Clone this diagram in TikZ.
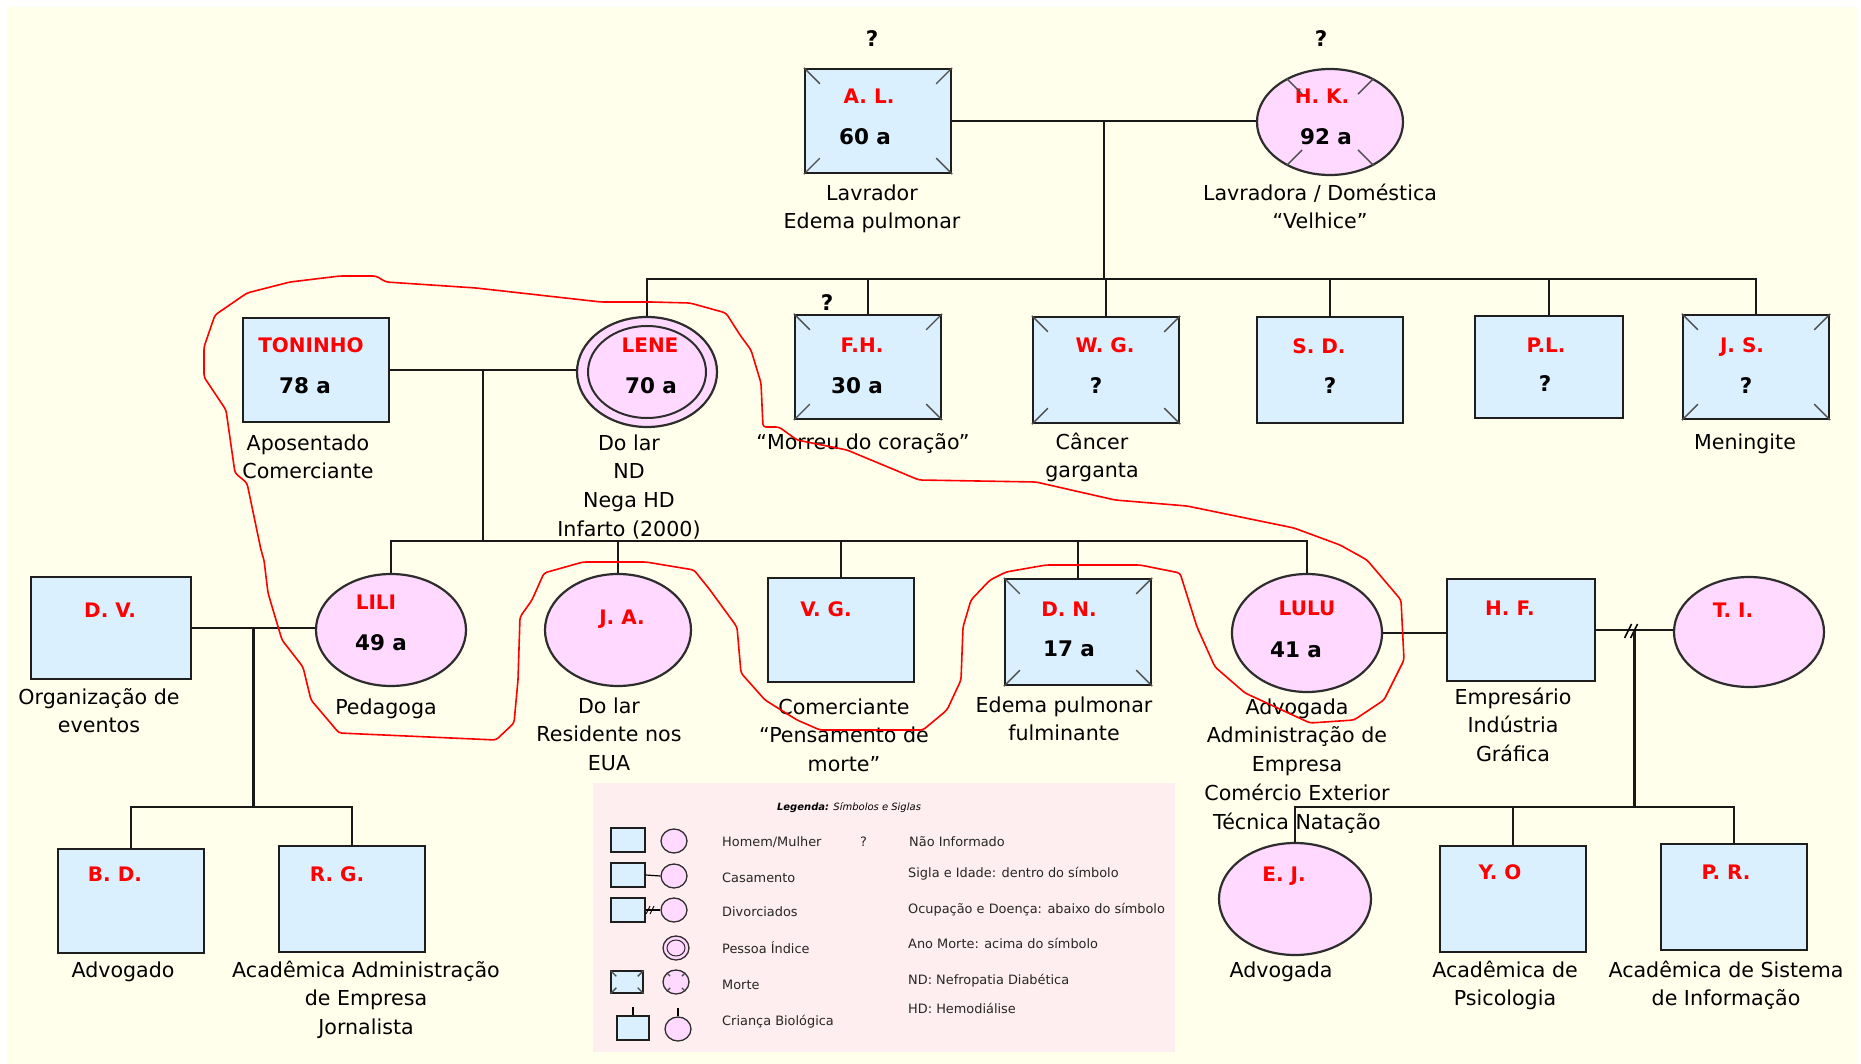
\documentclass[tikz,border=0pt]{standalone}
\usepackage{fontspec}
\setmainfont{DejaVu Sans}
\usetikzlibrary{shapes.geometric,calc}

% death marks: corners of a square, diagonals of a circle
\newcommand{\deadbox}[2][16]{%
  \draw[deadmark] (#2.north west) -- ++(#1,#1);
  \draw[deadmark] (#2.north east) -- ++(-#1,#1);
  \draw[deadmark] (#2.south west) -- ++(#1,-#1);
  \draw[deadmark] (#2.south east) -- ++(-#1,-#1);
}
\newcommand{\deadcirc}[1]{%
  \foreach \a in {45,135,225,315}
    \draw[deadmark] (#1.\a) -- ($(#1.center)!0.64!(#1.\a)$);
}

\begin{document}
\begin{tikzpicture}[x=1pt,y=-1pt,
    man/.style={rectangle,draw=boxline,fill=mancol,line width=2.4pt,inner sep=0pt,minimum width=146pt,minimum height=104pt},
    woman/.style={ellipse,draw=circline,fill=womcol,line width=2.2pt,inner sep=0pt,minimum width=146pt,minimum height=110pt},
    nm/.style={text=namered,font=\bfseries\fontsize{20}{24}\selectfont,inner sep=0pt,anchor=base},
    age/.style={font=\bfseries\fontsize{21.5}{26}\selectfont,inner sep=0pt,anchor=base},
    info/.style={font=\fontsize{20.6}{28.7}\selectfont,align=center,anchor=north,inner sep=0pt},
    tie/.style={line width=2.4pt,draw=black!90},
    deadmark/.style={line width=1.4pt,draw=black!70},
    lsq/.style={man,minimum width=34pt,minimum height=24pt,line width=1.3pt},
    lci/.style={woman,minimum width=26pt,minimum height=24pt,line width=1.3pt},
    leg/.style={font=\fontsize{12.9}{15}\selectfont,anchor=base west,inner sep=0pt,text=black!85}]
    % Define colors
    \definecolor{bgcol}{RGB}{255,255,235}
    \definecolor{legbg}{RGB}{255,238,240}
    \definecolor{mancol}{RGB}{219,240,255}
    \definecolor{womcol}{RGB}{255,217,255}
    \definecolor{namered}{RGB}{255,0,0}
    \definecolor{boxline}{RGB}{30,30,30}
    \definecolor{circline}{RGB}{45,45,45}

    % Draw background
    \useasboundingbox (0,0) rectangle (1861,1064);
    \fill[bgcol] (7,7) rectangle (1858,1064);

    % Grandparents
    \node[man] (al) at (878,121) {};
    \node[woman,minimum height=106pt] (hk) at (1330,122) {};
    \node[age] (alq) at (872,47) {?};
    \node[age] (hkq) at (1321,47) {?};
    \node[nm] (alnm) at (869,104) {A. L.};
    \node[age] (alage) at (865,145) {60 a};
    \node[nm] (hknm) at (1322,104) {H. K.};
    \node[age] (hkage) at (1326,145) {92 a};
    \node[info] (alinfo) at (872,180) {\strut Lavrador\\Edema pulmonar};
    \node[info] (hkinfo) at (1320,180) {\strut Lavradora / Doméstica\\“Velhice”};

    % Their children and Toninho
    \node[man] (ton) at (316,370) {};
    \node[woman,minimum width=140pt] (lene) at (647,372) {};
    \draw[line width=2pt,draw=circline] (lene.center) ellipse (59 and 46);
    \node[man] (fh) at (868,367) {};
    \node[man,minimum height=106pt] (wg) at (1106,370) {};
    \node[man,minimum height=106pt] (sd) at (1330,370) {};
    \node[man,minimum width=148pt,minimum height=102pt] (pl) at (1549,367) {};
    \node[man] (js) at (1756,367) {};

    \node[nm] (tonnm) at (311,353) {TONINHO};
    \node[age] (tonage) at (305,394) {78 a};
    \node[nm] (lenenm) at (650,353) {LENE};
    \node[age] (leneage) at (651,394) {70 a};
    \node[age] (fhq) at (827,311) {?};
    \node[nm] (fhnm) at (862,353) {F.H.};
    \node[age] (fhage) at (857,394) {30 a};
    \node[nm] (wgnm) at (1105,353) {W. G.};
    \node[age] (wgage) at (1096,394) {?};
    \node[nm] (sdnm) at (1319,354) {S. D.};
    \node[age] (sdage) at (1330,394) {?};
    \node[nm] (plnm) at (1546,353) {P.L.};
    \node[age] (plage) at (1545,392) {?};
    \node[nm] (jsnm) at (1742,353) {J. S.};
    \node[age] (jsage) at (1746,394) {?};

    \node[info] (toninfo) at (308,430) {\strut Aposentado\\Comerciante};
    \node[info] (leneinfo) at (629,430) {\strut Do lar\\ND\\Nega HD\\Infarto (2000)};
    \node[info] (fhinfo) at (863,429) {\strut “Morreu do coração”};
    \node[info] (wginfo) at (1092,429) {\strut Câncer\\garganta};
    \node[info] (jsinfo) at (1745,429) {\strut Meningite};

    % Third generation
    \node[man,minimum width=160pt,minimum height=102pt] (dv) at (111,628) {};
    \node[woman,minimum width=150pt,minimum height=112pt] (lili) at (391,630) {};
    \node[woman,minimum width=146pt,minimum height=112pt] (ja) at (618,630) {};
    \node[man] (vg) at (841,630) {};
    \node[man,minimum height=106pt] (dn) at (1078,632) {};
    \node[woman,minimum width=150pt,minimum height=118pt] (lulu) at (1307,633) {};
    \node[man,minimum width=148pt,minimum height=102pt] (hf) at (1521,630) {};
    \node[woman,minimum width=150pt,minimum height=110pt] (ti) at (1749,632) {};

    \node[nm] (dvnm) at (110,617) {D. V.};
    \node[nm] (lilinm) at (376,609) {LILI};
    \node[age] (liliage) at (381,650) {49 a};
    \node[nm] (janm) at (622,624) {J. A.};
    \node[nm] (vgnm) at (826,616) {V. G.};
    \node[nm] (dnnm) at (1069,616) {D. N.};
    \node[age] (dnage) at (1069,656) {17 a};
    \node[nm] (lulunm) at (1307,615) {LULU};
    \node[age] (luluage) at (1296,657) {41 a};
    \node[nm] (hfnm) at (1510,615) {H. F.};
    \node[nm] (tinm) at (1733,617) {T. I.};

    \node[info] (dvinfo) at (99,684) {\strut Organização de\\eventos};
    \node[info] (liliinfo) at (386,694) {\strut Pedagoga};
    \node[info] (jainfo) at (609,693) {\strut Do lar\\Residente nos\\EUA};
    \node[info] (vginfo) at (844,694) {\strut Comerciante\\“Pensamento de\\morte”};
    \node[info] (dninfo) at (1064,692) {\strut Edema pulmonar\\fulminante};
    \node[info] (luluinfo) at (1297,694) {\strut Advogada\\Administração de\\Empresa\\Comércio Exterior\\Técnica Natação};
    \node[info] (hfinfo) at (1513,684) {\strut Empresário\\Indústria\\Gráfica};

    % Fourth generation
    \node[man] (bd) at (131,901) {};
    \node[man,minimum height=106pt] (rg) at (352,899) {};
    \node[woman,minimum width=152pt,minimum height=112pt] (ej) at (1295,899) {};
    \node[man,minimum height=106pt] (yo) at (1513,899) {};
    \node[man,minimum height=106pt] (pr) at (1734,897) {};

    \node[nm] (bdnm) at (115,881) {B. D.};
    \node[nm] (rgnm) at (337,881) {R. G.};
    \node[nm] (ejnm) at (1284,881) {E. J.};
    \node[nm] (yonm) at (1500,879) {Y. O};
    \node[nm] (prnm) at (1726,879) {P. R.};

    \node[info] (bdinfo) at (123,957) {\strut Advogado};
    \node[info] (rginfo) at (366,957) {\strut Acadêmica Administração\\de Empresa\\Jornalista};
    \node[info] (ejinfo) at (1281,957) {\strut Advogada};
    \node[info] (yoinfo) at (1505,957) {\strut Acadêmica de\\Psicologia};
    \node[info] (prinfo) at (1726,957) {\strut Acadêmica de Sistema\\de Informação};

    % Death marks
    \deadbox{al}
    \deadcirc{hk}
    \deadbox{fh}
    \deadbox{wg}
    \deadbox{js}
    \deadbox{dn}

    % Marriages and children
    \coordinate (sib1) at (0,279);
    \coordinate (sib2) at (0,541);
    \coordinate (sib3) at (0,807);

    \draw[tie] (al.east) -- (al.east -| hk.west);
    \coordinate (m1) at ($(al.east)!0.5!(hk.west)$);
    \draw[tie] (m1) -- (m1 |- sib1);
    \draw[tie] (lene.north) -- (lene.north |- sib1) -| (js.north);
    \foreach \c in {fh,wg,sd,pl}
        \draw[tie] (\c.north) -- (\c.north |- sib1);

    \draw[tie] (ton.east) -- (ton.east -| lene.west);
    \coordinate (m2) at ($(ton.east)!0.5!(lene.west)$);
    \draw[tie] (m2) -- (m2 |- sib2);
    \draw[tie] (lili.north) -- (lili.north |- sib2) -| (lulu.north);
    \foreach \c in {ja,vg,dn}
        \draw[tie] (\c.north) -- (\c.north |- sib2);

    \draw[tie] (dv.east) -- (dv.east -| lili.west);
    \coordinate (m3) at ($(dv.east)!0.5!(lili.west)$);
    \draw[tie] (m3) -- (m3 |- sib3);
    \draw[tie] (bd.north) -- (bd.north |- sib3) -| (rg.north);

    \draw[tie] (lulu.east) -- (lulu.east -| hf.west);
    \draw[tie] (hf.east) -- (hf.east -| ti.west);
    \coordinate (m4) at ($(hf.east)!0.5!(ti.west)$);
    \draw[line width=1.5pt] ($(m4)+(-10,7)$) -- ($(m4)+(-3,-7)$);
    \draw[line width=1.5pt] ($(m4)+(-4,7)$) -- ($(m4)+(3,-7)$);
    \draw[tie] (m4) -- (m4 |- sib3);
    \draw[tie] (ej.north) -- (ej.north |- sib3) -| (pr.north);
    \draw[tie] (yo.north) -- (yo.north |- sib3);

    % Legend
    \fill[legbg] (593,783) rectangle (1175,1052);
    \node[font=\fontsize{10}{12}\selectfont\itshape,inner sep=0pt] (legtitle) at (849,808) {\textbf{Legenda:} Símbolos e Siglas};

    \node[lsq] (lsq1) at (628,840) {};
    \node[lci] (lci1) at (674,841) {};
    \node[lsq] (lsq2) at (628,875) {};
    \node[lci] (lci2) at (674,876) {};
    \draw[line width=1.2pt] (lsq2.east) -- (lci2.west);
    \node[lsq] (lsq3) at (628,910) {};
    \node[lci] (lci3) at (674,910) {};
    \draw[line width=1.2pt] (lsq3.east) -- (lci3.west);
    \draw[line width=0.9pt] (646,914) -- (650,906) (650,914) -- (654,906);
    \node[lci] (lci4) at (676,948) {};
    \draw[line width=1pt,draw=circline] (lci4.center) ellipse (9 and 8);
    \node[lsq,minimum width=32pt,minimum height=22pt] (lsq5) at (627,982) {};
    \deadbox[6]{lsq5}
    \node[lci] (lci5) at (676,982) {};
    \deadcirc{lci5}
    \node[lsq,minimum width=32pt] (lsq6) at (633,1028) {};
    \node[lci] (lci6) at (678,1029) {};
    \coordinate (lup6a) at (633,1007);
    \coordinate (lup6b) at (678,1008);
    \draw[line width=1.2pt] (lup6a) -- (lsq6.north);
    \draw[line width=1.2pt] (lup6b) -- (lci6.north);

    \node[leg] (lt1) at (722,846) {Homem/Mulher};
    \node[leg] (lt2) at (860,846) {?};
    \node[leg] (lt3) at (909,846) {Não Informado};
    \node[leg] (lt4) at (722,882) {Casamento};
    \node[leg] (lt5) at (908,877) {Sigla e Idade: dentro do símbolo};
    \node[leg] (lt6) at (722,916) {Divorciados};
    \node[leg] (lt7) at (908,913) {Ocupação e Doença: abaixo do símbolo};
    \node[leg] (lt8) at (722,953) {Pessoa Índice};
    \node[leg] (lt9) at (908,948) {Ano Morte: acima do símbolo};
    \node[leg] (lt10) at (722,989) {Morte};
    \node[leg] (lt11) at (908,984) {ND: Nefropatia Diabética};
    \node[leg] (lt12) at (722,1025) {Criança Biológica};
    \node[leg] (lt13) at (908,1013) {HD: Hemodiálise};

    % Red loop
    \draw[red,line width=1.6pt,rounded corners=3pt]
        (247,293) -- (290,282) -- (340,276) -- (376,276) -- (386,282) -- (476,288)
        -- (601,302) -- (651,302) -- (690,303) -- (726,313) -- (740,335) -- (751,350)
        -- (761,383) -- (763,427) -- (779,427) -- (797,440) -- (847,450) -- (919,480)
        -- (1036,482) -- (1115,500) -- (1187,506) -- (1294,528) -- (1340,545) -- (1367,560)
        -- (1401,600) -- (1404,660) -- (1384,700) -- (1354,720) -- (1310,723) -- (1245,693)
        -- (1215,667) -- (1197,627) -- (1180,573) -- (1140,565) -- (1046,565) -- (1006,572)
        -- (990,580) -- (971,600) -- (963,627) -- (961,680) -- (947,710) -- (923,730)
        -- (820,730) -- (797,720) -- (765,700) -- (741,673) -- (737,627) -- (710,590)
        -- (694,570) -- (646,562) -- (583,562) -- (544,573) -- (532,600) -- (520,617)
        -- (518,680) -- (514,723) -- (496,740) -- (339,733) -- (311,700) -- (303,667)
        -- (282,640) -- (268,593) -- (264,560) -- (261,550) -- (247,483) -- (235,473)
        -- (226,410) -- (204,377) -- (204,347) -- (215,315) -- cycle;
\end{tikzpicture}
\end{document}
